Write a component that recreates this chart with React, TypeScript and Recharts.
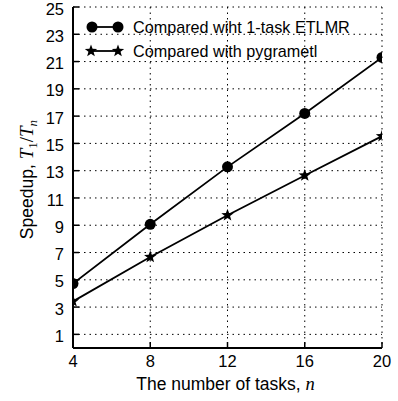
import React from 'react';
import { LineChart, Line, XAxis, YAxis, CartesianGrid, Legend } from 'recharts';

const tasks = [4, 8, 12, 16, 20];
const etlmr = [4.72, 9.07, 13.28, 17.2, 21.3];
const pygrametl = [3.42, 6.67, 9.73, 12.65, 15.53];
const xTicks = [4, 8, 12, 16, 20];
const yTicks = [1, 3, 5, 7, 9, 11, 13, 15, 17, 19, 21, 23, 25];
const seriesNames = ['Compared wiht 1-task ETLMR', 'Compared with pygrametl'];

const data = tasks.map((n, i) => ({ n, etlmr: etlmr[i], pygrametl: pygrametl[i] }));

const FONT = '"Liberation Sans", Arial, Helvetica, sans-serif';
const MATH = '"Liberation Serif", "DejaVu Serif", serif';
const TICK_LEN = 6;
const X_MARGIN = 7;
const Y_MARGIN = 9;

function starPoints(cx: number, cy: number, R: number, r: number) {
  const pts: string[] = [];
  for (let i = 0; i < 10; i++) {
    const rad = i % 2 === 0 ? R : r;
    const a = -Math.PI / 2 + (i * Math.PI) / 5;
    pts.push(`${cx + rad * Math.cos(a)},${cy + rad * Math.sin(a)}`);
  }
  return pts.join(' ');
}

const CircleDot = (props: any) => {
  const { cx, cy, index } = props;
  return <circle key={`c${index}`} cx={cx} cy={cy} r={5.5} fill="#000" />;
};

const StarDot = (props: any) => {
  const { cx, cy, index } = props;
  return <polygon key={`s${index}`} points={starPoints(cx, cy, 6.5, 2.7)} fill="#000" />;
};

const BottomTick = (props: any) => {
  const { x, y, payload } = props;
  const axisY = y - X_MARGIN;
  return (
    <g>
      <line x1={x} x2={x} y1={axisY} y2={axisY - TICK_LEN} stroke="#000" strokeWidth={1.5} />
      <text x={x} y={y} dy="0.72em" textAnchor="middle" fontSize={16.5} fontFamily={FONT} fill="#000">
        {payload.value}
      </text>
    </g>
  );
};

const LeftTick = (props: any) => {
  const { x, y, payload } = props;
  const axisX = x + Y_MARGIN;
  return (
    <g>
      <line x1={axisX} x2={axisX + TICK_LEN} y1={y} y2={y} stroke="#000" strokeWidth={1.5} />
      <text x={x} y={y} dy="0.46em" textAnchor="end" fontSize={16.5} fontFamily={FONT} fill="#000">
        {payload.value}
      </text>
    </g>
  );
};

const TopTick = (props: any) => {
  const { x, y } = props;
  return <line x1={x} x2={x} y1={y} y2={y + TICK_LEN} stroke="#000" strokeWidth={1.5} />;
};

const RightTick = (props: any) => {
  const { x, y } = props;
  return <line x1={x} x2={x - TICK_LEN} y1={y} y2={y} stroke="#000" strokeWidth={1.5} />;
};

const XLabel = (props: any) => {
  const { viewBox } = props;
  const cx = viewBox.x + viewBox.width / 2 - 2;
  return (
    <text x={cx} y={viewBox.y + 42} textAnchor="middle" fontSize={17.5} fontFamily={FONT} fill="#000">
      The number of tasks,{' '}
      <tspan fontFamily={MATH} fontStyle="italic" fontSize={18.5}>n</tspan>
    </text>
  );
};

const YLabel = (props: any) => {
  const { viewBox } = props;
  const cx = viewBox.x + 33;
  const cy = viewBox.y + viewBox.height / 2 + 2;
  return (
    <text
      x={cx}
      y={cy}
      transform={`rotate(-90, ${cx}, ${cy})`}
      textAnchor="middle"
      fontSize={17.5}
      fontFamily={FONT}
      fill="#000"
    >
      Speedup,{' '}
      <tspan fontFamily={MATH} fontStyle="italic" fontSize={19}>T</tspan>
      <tspan fontFamily={MATH} fontSize={13} dy={4}>1</tspan>
      <tspan fontFamily={MATH} fontSize={19} dy={-4}>/</tspan>
      <tspan fontFamily={MATH} fontStyle="italic" fontSize={19}>T</tspan>
      <tspan fontFamily={MATH} fontStyle="italic" fontSize={13} dy={4}>n</tspan>
    </text>
  );
};

const LegendContent = () => (
  <svg width={300} height={52} style={{ display: 'block', overflow: 'visible' }}>
    <line x1={12} x2={38} y1={13} y2={13} stroke="#000" strokeWidth={1.8} />
    <circle cx={12} cy={13} r={5.5} fill="#000" />
    <circle cx={38} cy={13} r={5.5} fill="#000" />
    <text x={53} y={13} dy="0.35em" fontSize={16.2} fontFamily={FONT} fill="#000">
      {seriesNames[0]}
    </text>
    <line x1={11} x2={38} y1={37} y2={37} stroke="#000" strokeWidth={1.8} />
    <polygon points={starPoints(11, 37, 6.5, 2.7)} fill="#000" />
    <polygon points={starPoints(38, 37, 6.5, 2.7)} fill="#000" />
    <text x={53} y={37} dy="0.35em" fontSize={16.2} fontFamily={FONT} fill="#000">
      {seriesNames[1]}
    </text>
  </svg>
);

export default function App() {
  return (
    <div style={{ position: 'absolute', left: 0, top: 0, width: 398, height: 401, background: '#fff' }}>
      <LineChart
        width={398}
        height={401}
        data={data}
        margin={{ top: 7, right: 16, bottom: 0, left: 0 }}
        style={{ fontFamily: FONT }}
      >
        <CartesianGrid
          stroke="#000"
          strokeWidth={1}
          strokeDasharray="1.5 4"
          horizontalValues={yTicks}
          verticalValues={xTicks}
        />
        <XAxis
          dataKey="n"
          type="number"
          domain={[4, 20]}
          ticks={xTicks}
          allowDataOverflow
          height={53}
          tickSize={0}
          tickMargin={X_MARGIN}
          tick={<BottomTick />}
          axisLine={{ stroke: '#000', strokeWidth: 2 }}
          tickLine={false}
          interval={0}
          label={<XLabel />}
        />
        <XAxis
          xAxisId="top"
          dataKey="n"
          type="number"
          orientation="top"
          domain={[4, 20]}
          ticks={xTicks}
          allowDataOverflow
          height={0}
          tickSize={0}
          tickMargin={0}
          tick={<TopTick />}
          axisLine={{ stroke: '#000', strokeWidth: 2 }}
          tickLine={false}
          interval={0}
        />
        <YAxis
          type="number"
          domain={[0, 25]}
          ticks={yTicks}
          allowDataOverflow
          width={73}
          tickSize={0}
          tickMargin={Y_MARGIN}
          tick={<LeftTick />}
          axisLine={{ stroke: '#000', strokeWidth: 2 }}
          tickLine={false}
          interval={0}
          label={<YLabel />}
        />
        <YAxis
          yAxisId="right"
          type="number"
          orientation="right"
          domain={[0, 25]}
          ticks={yTicks}
          allowDataOverflow
          width={0}
          tickSize={0}
          tickMargin={0}
          tick={<RightTick />}
          axisLine={{ stroke: '#000', strokeWidth: 2 }}
          tickLine={false}
          interval={0}
        />
        <Legend
          layout="horizontal"
          verticalAlign="middle"
          align="center"
          content={<LegendContent />}
          wrapperStyle={{ left: 80, top: 14, width: 300, height: 52 }}
        />
        <Line
          dataKey="etlmr"
          name={seriesNames[0]}
          stroke="#000"
          strokeWidth={1.8}
          dot={<CircleDot />}
          activeDot={false}
          isAnimationActive={false}
        />
        <Line
          dataKey="pygrametl"
          name={seriesNames[1]}
          stroke="#000"
          strokeWidth={1.8}
          dot={<StarDot />}
          activeDot={false}
          isAnimationActive={false}
        />
      </LineChart>
    </div>
  );
}
